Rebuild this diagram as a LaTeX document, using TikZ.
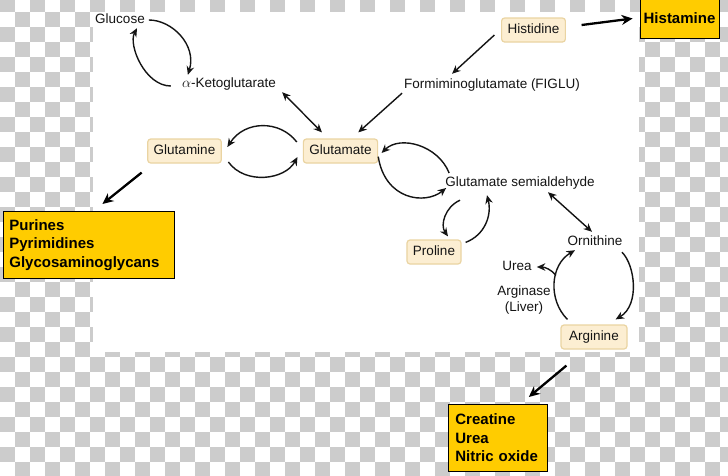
\documentclass[tikz,border=0pt]{standalone}
\usepackage{fontspec}
\setmainfont{Liberation Sans}
\usetikzlibrary{arrows.meta}
\definecolor{checkgray}{RGB}{204,204,204}
\definecolor{boxyellow}{RGB}{255,204,0}
\definecolor{peachfill}{RGB}{252,238,210}
\definecolor{peachline}{RGB}{234,212,162}
\definecolor{ink}{RGB}{20,20,20}
\begin{document}
\begin{tikzpicture}[x=1pt,y=-1pt,
  lbl/.style={font=\fontsize{13.5}{16}\selectfont, text=ink, inner sep=2pt, text height=9.5pt, text depth=2.5pt},
  plainlbl/.style={font=\fontsize{13.5}{16}\selectfont, text=ink, inner sep=2pt},
  aa/.style={lbl, fill=peachfill, draw=peachline, line width=1.2pt, rounded corners=3pt, minimum height=24pt, inner xsep=6pt},
  outbox/.style={fill=boxyellow, draw=black, line width=0.8pt, font=\bfseries\fontsize{15}{18.5}\selectfont, align=left, text=black},
  flow/.style={draw=ink, line width=1.4pt, -{Stealth[length=8.5pt,width=7.5pt]}},
  both/.style={draw=ink, line width=1.4pt, {Stealth[length=8.5pt,width=7.5pt]}-{Stealth[length=8.5pt,width=7.5pt]}},
  bigflow/.style={draw=black, line width=2.3pt, -{Stealth[length=11pt,width=10pt]}}
]
\useasboundingbox (0,0) rectangle (728,475);
% transparent-look checker background
\fill[white] (0,0) rectangle (728,475);
\foreach \k in {-1,...,31}{
  \foreach \j in {0,...,48}{
    \pgfmathtruncatemacro{\chk}{mod(\j+\k+100,2)}
    \ifnum\chk=0 \fill[checkgray] ({15*\j},{15*\k-3}) rectangle ++(15,15);\fi
  }
}
\fill[white] (93,12) rectangle (639,352);

% nodes
\node[lbl] (glc) at (120,20) {Glucose};
\node[lbl] (akg) at (229,84) {$\alpha$-Ketoglutarate};
\node[lbl] (figlu) at (492,85) {Formiminoglutamate (FIGLU)};
\node[aa] (his) at (533.5,30) {Histidine};
\node[aa] (gln) at (184.5,151) {Glutamine};
\node[aa] (glu) at (340.5,151) {Glutamate};
\node[lbl] (sal) at (520,183) {Glutamate semialdehyde};
\node[aa] (pro) at (434,252) {Proline};
\node[lbl] (orn) at (595,242) {Ornithine};
\node[lbl] (urea) at (517,267) {Urea};
\node[plainlbl, align=center] (ase) at (524,300) {Arginase\\(Liver)};
\node[aa, minimum width=66pt] (arg) at (594,337) {Arginine};

\node[outbox, minimum width=79pt, minimum height=39pt, inner sep=1pt] (hist) at (679.5,18.5) {Histamine};
\node[outbox, anchor=north west, text width=159pt, inner xsep=6pt, minimum height=67pt] (pur) at (3,211) {Purines\\Pyrimidines\\Glycosaminoglycans};
\node[outbox, anchor=north west, text width=85pt, inner xsep=7pt, minimum height=67pt] (cre) at (448,404) {Creatine\\Urea\\Nitric oxide};

% connectors
\draw[flow] ([xshift=2]glc.east) .. controls (172,20) and (197,45) .. ([shift={(8,-1)}]akg.north west);
\draw[flow] ([shift={(-9,2)}]akg.west) .. controls (145,86) and (128,45) .. ([xshift=17]glc.south);
\draw[both] ([xshift=4]akg.south east) -- ([shift={(-18.5,-6)}]glu.north);

\draw[flow] ([shift={(-6.6,5)}]his.west) -- ([shift={(50,-3)}]figlu.north west);
\draw[flow] (figlu.south west) -- ([shift={(-20,-6)}]glu.north east);
\draw[bigflow] ([shift={(15.6,-5)}]his.east) -- ([xshift=-7]hist.west);

\draw[flow] ([shift={(-6,-9)}]glu.west) .. controls (280,120) and (245,120) .. ([shift={(5.5,-4)}]gln.east);
\draw[flow] ([shift={(6.5,11)}]gln.east) .. controls (245,185) and (285,180) .. ([shift={(-5.3,6)}]glu.west);
\draw[bigflow] ([shift={(-5.5,9)}]gln.south west) -- ([shift={(13.5,-7)}]pur.north);

\draw[flow] ([shift={(6,-10)}]sal.west) .. controls (438,145) and (400,135) .. ([shift={(3.3,2)}]glu.east);
\draw[flow] ([yshift=7]glu.south east) .. controls (385,200) and (425,205) .. ([shift={(3,5)}]sal.west);

\draw[flow] ([shift={(-60,9)}]sal.south) .. controls (445,207) and (440,225) .. ([shift={(14,-3)}]pro.north);
\draw[flow] ([shift={(4,3)}]pro.north east) .. controls (485,235) and (492,215) .. ([shift={(-33,4)}]sal.south);

\draw[both] ([shift={(28,1)}]sal.south) -- ([shift={(-3,-2)}]orn.north);

\draw[flow] ([shift={(27,2)}]orn.south) .. controls (635,265) and (640,305) .. ([shift={(-12,-5)}]arg.north east);
\draw[flow] ([shift={(7,-5)}]arg.north west) .. controls (548,300) and (550,265) .. ([shift={(-20,0)}]orn.south) coordinate[pos=0.6] (ub);
\draw[flow] (ub) .. controls (552,270) and (545,267) .. ([xshift=3]urea.east);

\draw[bigflow] ([shift={(6,16)}]arg.south west) -- ([shift={(-19,-7)}]cre.north east);
\end{tikzpicture}
\end{document}
